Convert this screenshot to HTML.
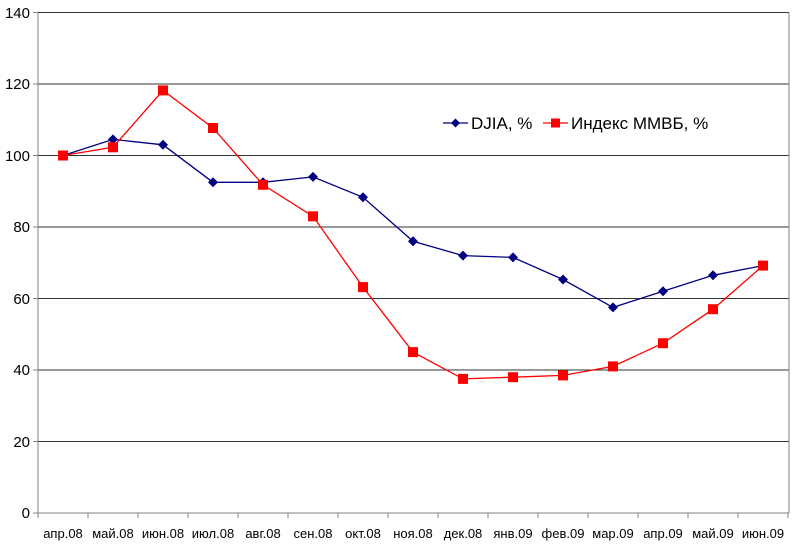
<!DOCTYPE html><html><head><meta charset="utf-8"><style>body{margin:0;background:#fff}svg{display:block}text{font-family:"Liberation Sans",sans-serif;fill:#000}</style></head><body>
<svg width="800" height="550" xmlns="http://www.w3.org/2000/svg">
<g stroke="#808080" stroke-width="1">
<line x1="38" y1="12.5" x2="789" y2="12.5" stroke="#333"/>
<line x1="38" y1="84" x2="789" y2="84" stroke="#333"/>
<line x1="38" y1="155.5" x2="789" y2="155.5" stroke="#333"/>
<line x1="38" y1="227" x2="789" y2="227" stroke="#333"/>
<line x1="38" y1="298.5" x2="789" y2="298.5" stroke="#333"/>
<line x1="38" y1="370" x2="789" y2="370" stroke="#333"/>
<line x1="38" y1="441.5" x2="789" y2="441.5" stroke="#333"/>
<line x1="789" y1="12.5" x2="789" y2="513"/>
<line x1="38" y1="12.5" x2="38" y2="513"/>
<line x1="38" y1="513" x2="789" y2="513"/>
<line x1="33" y1="12.5" x2="38" y2="12.5"/><line x1="33" y1="84" x2="38" y2="84"/><line x1="33" y1="155.5" x2="38" y2="155.5"/><line x1="33" y1="227" x2="38" y2="227"/><line x1="33" y1="298.5" x2="38" y2="298.5"/><line x1="33" y1="370" x2="38" y2="370"/><line x1="33" y1="441.5" x2="38" y2="441.5"/><line x1="33" y1="513" x2="38" y2="513"/>
<path d="M38 513v5M88 513v5M138 513v5M188 513v5M238 513v5M288 513v5M338 513v5M388 513v5M438 513v5M488 513v5M538 513v5M588 513v5M638 513v5M688 513v5M738 513v5M788 513v5"/>
</g>
<g font-size="15" text-anchor="end">
<text x="30" y="18">140</text><text x="30" y="89">120</text><text x="30" y="161">100</text><text x="30" y="232">80</text><text x="30" y="304">60</text><text x="30" y="375">40</text><text x="30" y="447">20</text><text x="30" y="518">0</text>
</g>
<g font-size="13" text-anchor="middle">
<text x="63" y="538">апр.08</text><text x="113" y="538">май.08</text><text x="163" y="538">июн.08</text><text x="213" y="538">июл.08</text><text x="263" y="538">авг.08</text><text x="313" y="538">сен.08</text><text x="363" y="538">окт.08</text><text x="413" y="538">ноя.08</text><text x="463" y="538">дек.08</text><text x="513" y="538">янв.09</text><text x="563" y="538">фев.09</text><text x="613" y="538">мар.09</text><text x="663" y="538">апр.09</text><text x="713" y="538">май.09</text><text x="763" y="538">июн.09</text>
</g>
<polyline fill="none" stroke="#000080" stroke-width="1.3" points="63,155.5 113,139.4 163,144.8 213,182.3 263,182.3 313,176.9 363,197.3 413,241.3 463,255.6 513,257.4 563,279.5 613,307.4 663,291.3 713,275.3 763,265.6"/>
<g fill="#000080">
<path d="M63 150.5l5 5-5 5-5-5zM113 134.4l5 5-5 5-5-5zM163 139.8l5 5-5 5-5-5zM213 177.3l5 5-5 5-5-5zM263 177.3l5 5-5 5-5-5zM313 171.9l5 5-5 5-5-5zM363 192.3l5 5-5 5-5-5zM413 236.3l5 5-5 5-5-5zM463 250.6l5 5-5 5-5-5zM513 252.4l5 5-5 5-5-5zM563 274.5l5 5-5 5-5-5zM613 302.4l5 5-5 5-5-5zM663 286.3l5 5-5 5-5-5zM713 270.3l5 5-5 5-5-5zM763 260.6l5 5-5 5-5-5z"/>
</g>
<polyline fill="none" stroke="#ff0000" stroke-width="1.3" points="63,155.5 113,147.3 163,90.4 213,128 263,184.8 313,216.3 363,287.1 413,352.1 463,378.9 513,377.2 563,375.4 613,366.4 663,343.2 713,309.2 763,265.6"/>
<g fill="#ff0000">
<rect x="58" y="150.5" width="10" height="10"/><rect x="108" y="142.3" width="10" height="10"/><rect x="158" y="85.4" width="10" height="10"/><rect x="208" y="123" width="10" height="10"/><rect x="258" y="179.8" width="10" height="10"/><rect x="308" y="211.3" width="10" height="10"/><rect x="358" y="282.1" width="10" height="10"/><rect x="408" y="347.1" width="10" height="10"/><rect x="458" y="373.9" width="10" height="10"/><rect x="508" y="372.2" width="10" height="10"/><rect x="558" y="370.4" width="10" height="10"/><rect x="608" y="361.4" width="10" height="10"/><rect x="658" y="338.2" width="10" height="10"/><rect x="708" y="304.2" width="10" height="10"/><rect x="758" y="260.6" width="10" height="10"/>
</g>
<line x1="443" y1="123" x2="468" y2="123" stroke="#000080" stroke-width="1.3"/>
<path d="M455.5 118.5l4.5 4.5-4.5 4.5-4.5-4.5z" fill="#000080"/>
<text x="471" y="129" font-size="17">DJIA, %</text>
<line x1="543" y1="123" x2="568" y2="123" stroke="#ff0000" stroke-width="1.3"/>
<rect x="551" y="118.5" width="9" height="9" fill="#ff0000"/>
<text x="571" y="129" font-size="17">Индекс ММВБ, %</text>
</svg>
</body></html>
